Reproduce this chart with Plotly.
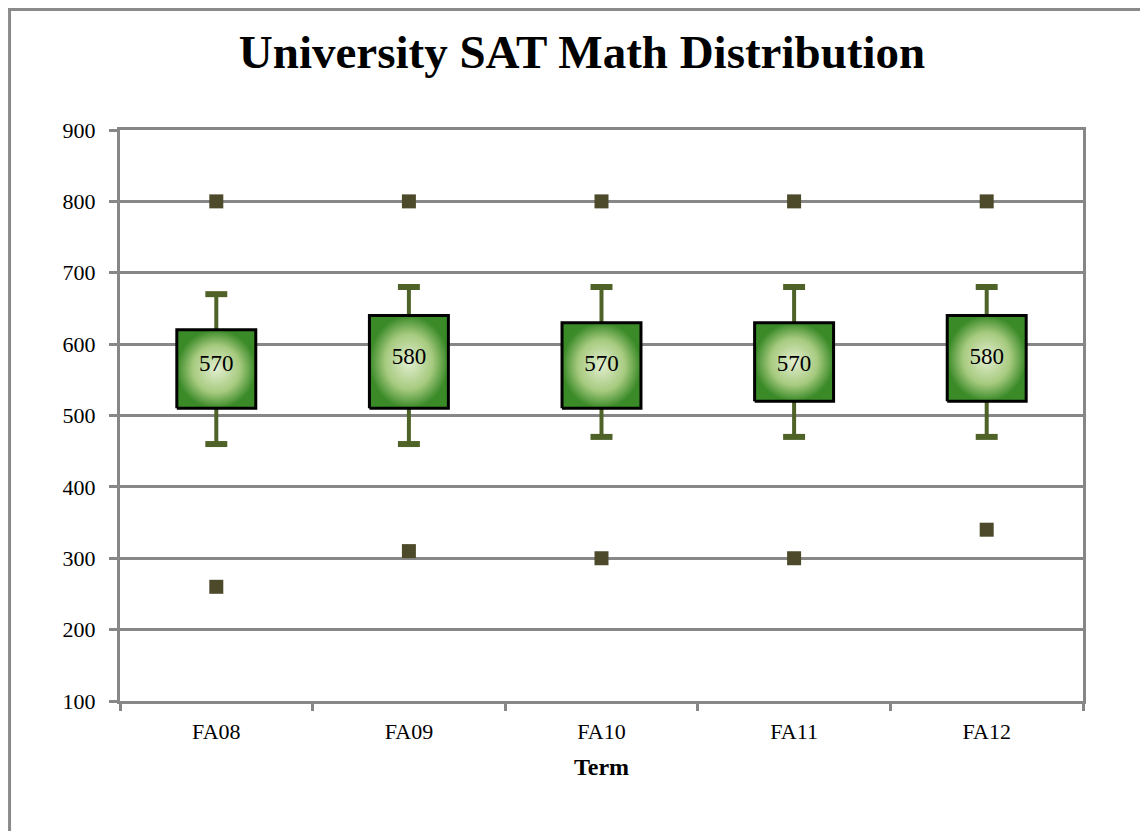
import plotly.graph_objects as go

terms = ["FA08", "FA09", "FA10", "FA11", "FA12"]
q1 = [510, 510, 510, 520, 520]
q3 = [620, 640, 630, 630, 640]
median = [570, 580, 570, 570, 580]
whisker_low = [460, 460, 470, 470, 470]
whisker_high = [670, 680, 680, 680, 680]
outlier_high = [800, 800, 800, 800, 800]
outlier_low = [260, 310, 300, 300, 340]

FONT = "Liberation Serif"
GRID = "#878787"
WHISK = "#4f6228"
xs = list(range(len(terms)))
bw = 0.205   # half box width (category units)
cw = 0.057   # half cap width

fig = go.Figure()

# whiskers
wx, wy = [], []
for i in xs:
    wx += [i, i, None, i, i, None]
    wy += [q3[i], whisker_high[i], None, q1[i], whisker_low[i], None]
fig.add_trace(go.Scatter(x=wx, y=wy, mode="lines", line=dict(color=WHISK, width=4),
                         hoverinfo="skip", showlegend=False))
cx, cy = [], []
for i in xs:
    cx += [i - cw, i + cw, None, i - cw, i + cw, None]
    cy += [whisker_high[i], whisker_high[i], None, whisker_low[i], whisker_low[i], None]
fig.add_trace(go.Scatter(x=cx, y=cy, mode="lines", line=dict(color=WHISK, width=6),
                         hoverinfo="skip", showlegend=False))

# boxes with radial gradient
for i in xs:
    fig.add_trace(go.Scatter(
        x=[i - bw, i + bw, i + bw, i - bw, i - bw],
        y=[q1[i], q1[i], q3[i], q3[i], q1[i]],
        mode="lines", fill="toself",
        fillgradient=dict(type="radial",
                          colorscale=[[0, "#e2eed0"], [0.6, "#a6ca7e"], [1, "#3a8a28"]]),
        line=dict(color="black", width=3),
        hoverinfo="skip", showlegend=False))

# median labels
fig.add_trace(go.Scatter(x=xs, y=median, mode="text", text=[str(m) for m in median],
                         textfont=dict(family=FONT, size=23, color="black"),
                         hoverinfo="skip", showlegend=False))

# outliers
fig.add_trace(go.Scatter(x=xs + xs, y=outlier_high + outlier_low, mode="markers",
                         marker=dict(symbol="square", size=14, color="#4d4a2c"),
                         hoverinfo="skip", showlegend=False))

fig.update_layout(
    width=1148, height=831,
    margin=dict(l=112, r=73, t=122, b=138),
    paper_bgcolor="white", plot_bgcolor="white",
    font=dict(family=FONT, color="black"),
    title=dict(text="<b>University SAT Math Distribution</b>",
               font=dict(family=FONT, size=47, color="black"),
               x=0.5, xanchor="center", xref="container",
               y=1 - 44 / 831, yanchor="middle", yref="container"),
    xaxis=dict(range=[-0.5, 4.5], tickmode="array", tickvals=xs, ticktext=terms,
               ticks="", showgrid=False, zeroline=False,
               showline=True, linecolor=GRID, linewidth=3, mirror=True,
               tickfont=dict(family=FONT, size=22, color="black"),
               ticklabelstandoff=9,
               minor=dict(tickmode="array", tickvals=[-0.5, 0.5, 1.5, 2.5, 3.5, 4.5],
                          ticks="outside", ticklen=7, tickwidth=3, tickcolor=GRID,
                          showgrid=False),
               title=dict(text="<b>Term</b>", font=dict(family=FONT, size=24, color="black"),
                          standoff=15)),
    yaxis=dict(range=[100, 900], tickmode="linear", tick0=100, dtick=100,
               showgrid=True, gridcolor=GRID, gridwidth=3, zeroline=False,
               showline=True, linecolor=GRID, linewidth=3, mirror=True,
               ticks="outside", ticklen=8, tickwidth=3, tickcolor=GRID,
               ticklabelstandoff=9,
               tickfont=dict(family=FONT, size=22, color="black")),
)

# outer chart border (top and left visible)
fig.add_shape(type="line", xref="paper", yref="paper", x0=-0.12, x1=1.2, y0=1.211, y1=1.211,
              line=dict(color="#8a8a8a", width=3), layer="above")
fig.add_shape(type="line", xref="paper", yref="paper", x0=-0.1147, x1=-0.1147, y0=-0.3, y1=1.211,
              line=dict(color="#8a8a8a", width=3), layer="above")

fig.write_html("out.html")
